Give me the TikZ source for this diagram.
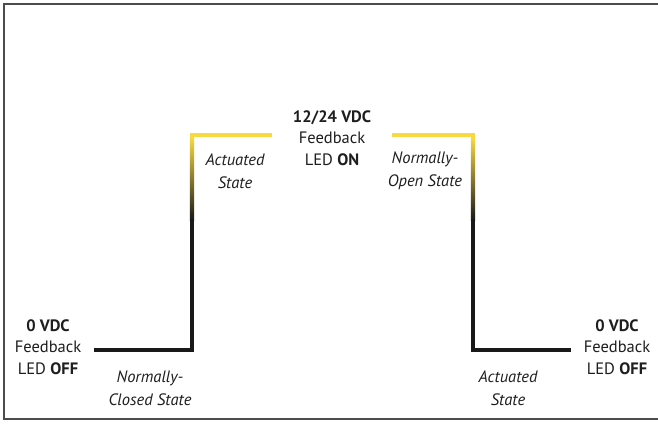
\documentclass[tikz,border=0pt]{standalone}
\usepackage{fontspec}
\setmainfont{PT Sans}
\usetikzlibrary{positioning}
\definecolor{ledyellow}{RGB}{248,218,64}
\definecolor{inktext}{RGB}{30,30,30}
\definecolor{lineblack}{RGB}{25,25,25}

\begin{document}
\begin{tikzpicture}[x=1pt,y=-1pt]
\useasboundingbox (0,0) rectangle (658,423);
\draw[gray!60!black, line width=2.5] (4,4) rectangle (680,419);

\begin{scope}[every node/.style={}]
    \coordinate (lo1) at (94,350);
    \coordinate (up1) at (192,350);
    \coordinate (top1) at (192,135);
    \coordinate (end1) at (272,135);
    \coordinate (end2) at (392,135);
    \coordinate (top2) at (473,135);
    \coordinate (dn2) at (473,350);
    \coordinate (lo2) at (571,350);
\end{scope}

\begin{scope}[every path/.style={line width=4.5}]
    \draw[lineblack] (lo1) -- (up1) -- (top1);
    \draw[lineblack] (top2) -- (dn2) -- (lo2);
    \draw[ledyellow] ([yshift=-20]top1) -- (top1) -- (end1);
    \draw[ledyellow] (end2) -- (top2) -- ([yshift=-20]top2);
\end{scope}

\foreach \c in {top1, top2}
    \shade[top color=ledyellow, middle color=ledyellow!45!lineblack, bottom color=lineblack]
        ([xshift=-2.2,yshift=-2.5]\c) rectangle ([xshift=2.2,yshift=-85]\c);

\begin{scope}[every node/.style={align=center, text=inktext,
              font=\fontsize{16.5}{21.5}\selectfont}]
    \node (on) at (332,138) {\textbf{12/24 VDC}\\Feedback\\LED \textbf{ON}};
    \node (offl) at (48,347) {\textbf{0 VDC}\\Feedback\\LED \textbf{OFF}};
    \node (offr) at (617,347) {\textbf{0 VDC}\\Feedback\\LED \textbf{OFF}};
    \node[font=\fontsize{16.5}{23}\selectfont\itshape] (act1) at (235,171) {Actuated\\State};
    \node[font=\fontsize{16.5}{23}\selectfont\itshape] (nopen) at (425,171) {Normally-\\Open State};
    \node[font=\fontsize{16.5}{23}\selectfont\itshape] (nclosed) at (150,388) {Normally-\\Closed State};
    \node[font=\fontsize{16.5}{23}\selectfont\itshape] (act2) at (508,388) {Actuated\\State};
\end{scope}
\end{tikzpicture}
\end{document}
